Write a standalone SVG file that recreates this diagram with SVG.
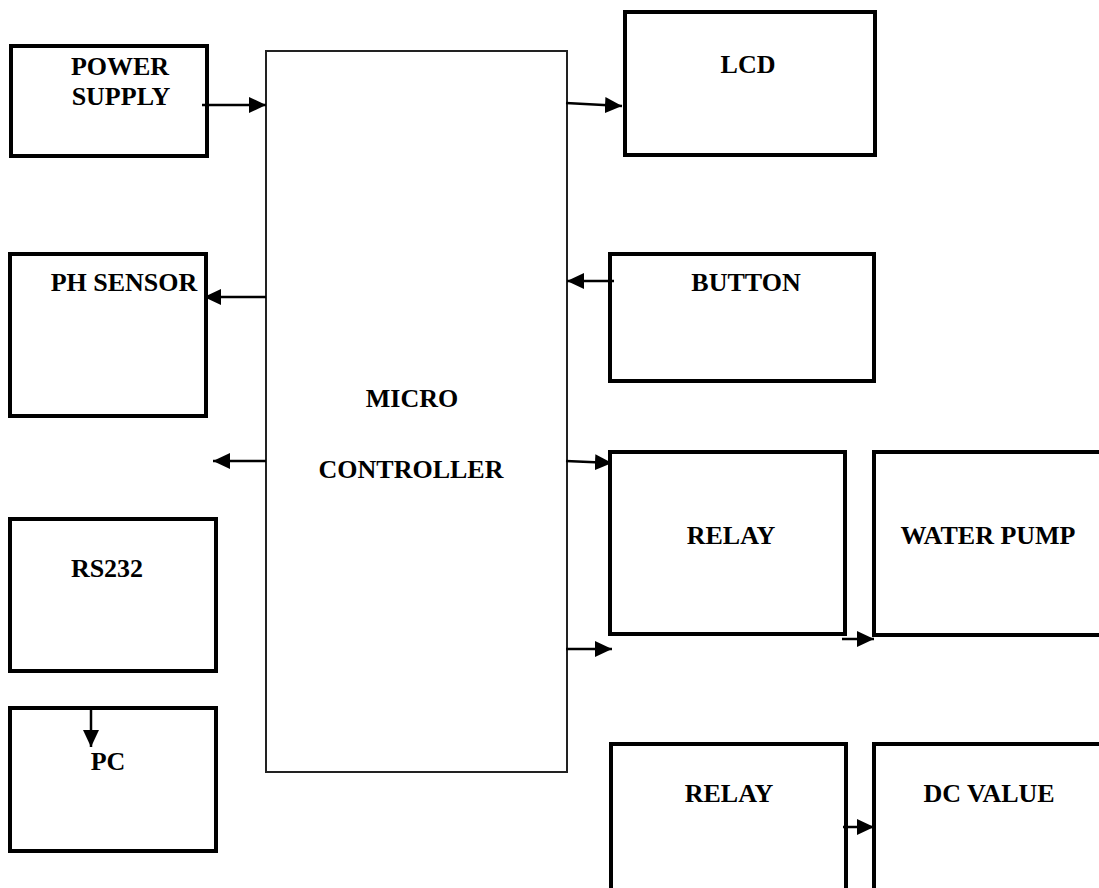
<svg xmlns="http://www.w3.org/2000/svg" width="1099" height="888" viewBox="0 0 1099 888">
<defs>
<marker id="ahb" markerWidth="17" markerHeight="16" refX="17" refY="8" orient="auto" markerUnits="userSpaceOnUse">
<path d="M0,0 L17,8 L0,16 Z" fill="#000"/>
</marker>
<style>
.box{fill:#fff;stroke:#000;stroke-width:4}
.mc{fill:#fff;stroke:#222;stroke-width:2}
.t{font-family:"Liberation Serif","Times New Roman",serif;font-weight:bold;font-size:26px;fill:#000;text-anchor:middle}
.c{stroke:#000;stroke-width:2.5;fill:none}
</style>
</defs>
<rect width="1099" height="888" fill="#fff"/>
<g id="micro">
<rect class="mc" x="266" y="51" width="301" height="721"/>
<text class="t" x="412" y="407">MICRO</text>
<text class="t" x="411" y="478">CONTROLLER</text>
</g>
<g id="power">
<rect class="box" x="11" y="46" width="196" height="110"/>
<text class="t" x="120" y="75">POWER</text>
<text class="t" x="121" y="105">SUPPLY</text>
</g>
<g id="lcd">
<rect class="box" x="625" y="12" width="250" height="143"/>
<text class="t" x="748" y="73">LCD</text>
</g>
<g id="ph">
<rect class="box" x="10" y="254" width="196" height="162"/>
<text class="t" x="124" y="291">PH SENSOR</text>
</g>
<g id="button">
<rect class="box" x="610" y="254" width="264" height="127"/>
<text class="t" x="746" y="291">BUTTON</text>
</g>
<g id="rs232">
<rect class="box" x="10" y="519" width="206" height="152"/>
<text class="t" x="107" y="577">RS232</text>
</g>
<g id="pc">
<rect class="box" x="10" y="708" width="206" height="143"/>
<text class="t" x="108" y="770">PC</text>
</g>
<g id="relay1">
<rect class="box" x="610" y="452" width="235" height="182"/>
<text class="t" x="731" y="544">RELAY</text>
</g>
<g id="pump">
<rect class="box" x="874" y="452" width="230" height="183"/>
<text class="t" x="988" y="544">WATER PUMP</text>
</g>
<g id="relay2">
<rect class="box" x="611" y="744" width="235" height="160"/>
<text class="t" x="729" y="802">RELAY</text>
</g>
<g id="dcvalue">
<rect class="box" x="874" y="744" width="230" height="160"/>
<text class="t" x="989" y="802">DC VALUE</text>
</g>
<g id="connectors">
<line class="c" x1="202" y1="105" x2="266" y2="105" marker-end="url(#ahb)"/>
<line class="c" x1="566" y1="103" x2="622" y2="106" marker-end="url(#ahb)"/>
<line class="c" x1="266" y1="297" x2="204" y2="297" marker-end="url(#ahb)"/>
<line class="c" x1="614" y1="281" x2="567" y2="281" marker-end="url(#ahb)"/>
<line class="c" x1="266" y1="461" x2="213" y2="461" marker-end="url(#ahb)"/>
<line class="c" x1="566" y1="461" x2="612" y2="463" marker-end="url(#ahb)"/>
<line class="c" x1="566" y1="649" x2="612" y2="649" marker-end="url(#ahb)"/>
<line class="c" x1="842" y1="639" x2="874" y2="639" marker-end="url(#ahb)"/>
<line class="c" x1="843" y1="827" x2="874" y2="827" marker-end="url(#ahb)"/>
<line class="c" x1="91" y1="708" x2="91" y2="747" marker-end="url(#ahb)"/>
</g>
</svg>
